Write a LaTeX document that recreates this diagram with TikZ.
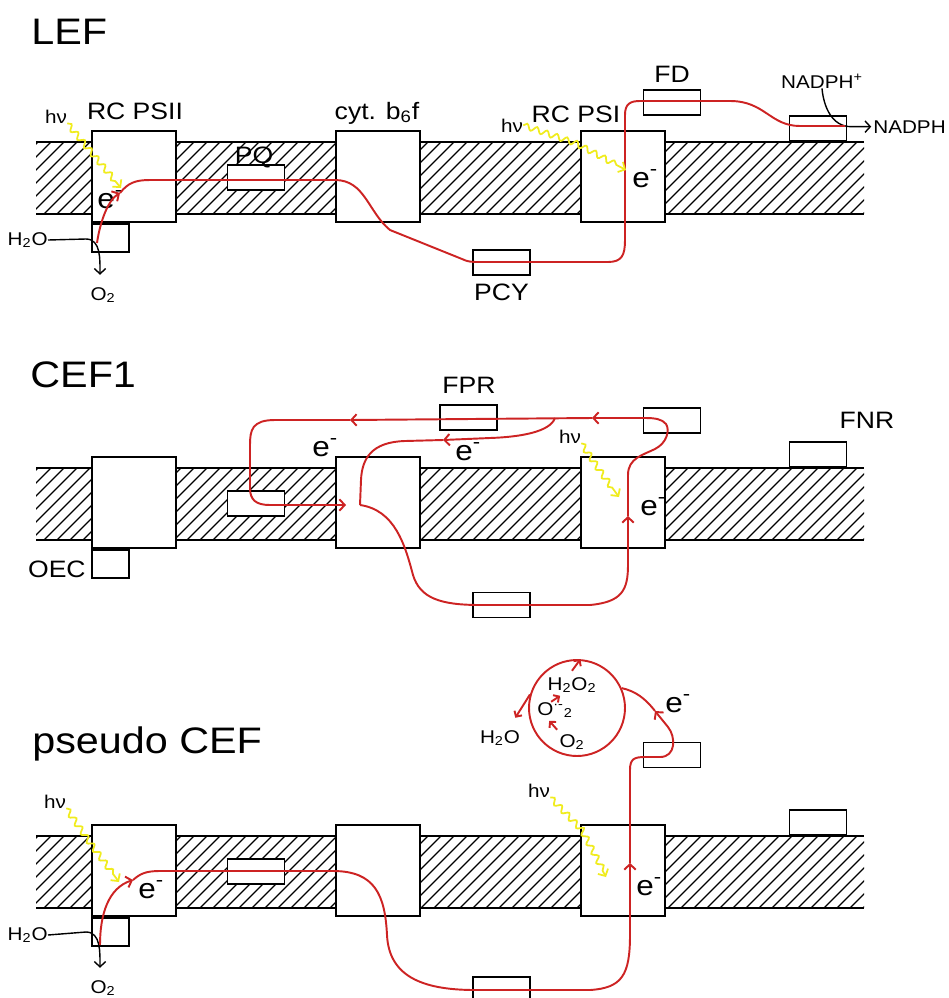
\documentclass[tikz,border=0pt]{standalone}
\usepackage{fontspec}
\setmainfont{Liberation Sans}[FakeStretch=1.12]
\usepackage{tikz}
\usetikzlibrary{arrows.meta,positioning,calc,decorations.pathmorphing}
\definecolor{flowred}{RGB}{205,35,35}
\definecolor{photonyellow}{RGB}{240,236,30}
\newcommand{\fsz}[1]{\fontsize{#1}{#1}\selectfont}

\begin{document}
\begin{tikzpicture}[
    x=0.02cm, y=0.02cm,
    complex/.style={rectangle, draw=black, fill=white, line width=1.1pt, minimum width=1.68cm, minimum height=1.82cm, inner sep=0pt},
    carrier/.style={rectangle, draw=black, fill=white, line width=1.1pt, minimum width=1.14cm, minimum height=0.5cm, inner sep=0pt},
    oec/.style={rectangle, draw=black, fill=white, line width=1.1pt, minimum width=0.74cm, minimum height=0.56cm, inner sep=0pt},
    paneltitle/.style={font=\fsz{21}, anchor=base west, inner sep=0pt},
    tag/.style={font=\fsz{13.5}, anchor=base, inner sep=0pt},
    chem/.style={font=\fsz{10.5}, anchor=base, inner sep=0pt},
    elec/.style={font=\fsz{16}, anchor=base west, inner sep=0pt},
    eflow/.style={draw=flowred, line width=1.1pt},
    etip/.style={-{Straight Barb[length=3pt,width=6.5pt]}},
    stip/.style={-{Straight Barb[length=2.4pt,width=5pt]}},
    photon/.style={draw=photonyellow, line width=1pt, -{Straight Barb[length=3pt,width=6.5pt]}, decorate, decoration={snake, amplitude=1.6pt, segment length=6pt, post length=4pt}},
    arrow/.style={line width=0.8pt, -{Straight Barb[length=3pt,width=6.5pt]}}
]
    \useasboundingbox (0,0) rectangle (949,-998);

    % Membrane and complexes, same in every panel
    \foreach \p/\dy in {lef/0, cef/-326, pcef/-694} {
        \begin{scope}[shift={(0,\dy)}]
            \begin{scope}
                \clip (36,-142) rectangle (864,-214);
                \foreach \h in {-60,-47,...,870} {
                    \draw[line width=0.7pt] (\h,-214) -- ++(72,72);
                }
            \end{scope}
            \draw[line width=1.1pt] (36,-142) -- (864,-142);
            \draw[line width=1.1pt] (36,-214) -- (864,-214);
            \node[complex] (\p-psii) at (134,-176.5) {};
            \node[oec, anchor=north west] (\p-oec) at (\p-psii.south west) {};
            \node[carrier] (\p-pq) at (256,-177.5) {};
            \node[complex] (\p-cyt) at (378,-176.5) {};
            \node[complex] (\p-psi) at (623,-176.5) {};
            \node[carrier, anchor=south] (\p-fnr) at (818,-142) {};
        \end{scope}
    }

    % LEF
    \node[paneltitle] (lef-title) at (31,-44) {LEF};
    \node[tag] (lef-psii-lbl) at (135,-119) {RC PSII};
    \node[tag] (lef-cyt-lbl) at (377,-119) {cyt. b\textsubscript{6}f};
    \node[tag] (lef-pq-lbl) at (254,-163) {PQ};
    \node[tag] (lef-psi-lbl) at (576,-122) {RC PSI};
    \node[carrier] (lef-fd) at (672,-102.5) {};
    \node[tag] (lef-fd-lbl) at (672,-82) {FD};
    \node[carrier] (lef-pcy) at (501.5,-262.5) {};
    \node[tag] (lef-pcy-lbl) at (501.5,-300) {PCY};
    \node[chem] (lef-nadp) at (822,-88) {NADPH\textsuperscript{+}};
    \node[chem, anchor=base west] (lef-nadph) at (873,-133) {NADPH};
    \node[chem] (lef-hv1) at (56,-123) {hν};
    \node[chem] (lef-hv2) at (512,-132) {hν};
    \node[chem, anchor=base east] (lef-h2o) at (48,-245) {H\textsubscript{2}O};
    \node[chem] (lef-o2) at (103,-300) {O\textsubscript{2}};
    \node[elec] (lef-e1) at (97,-208) {e\textsuperscript{-}};
    \node[elec] (lef-e2) at (632,-187) {e\textsuperscript{-}};

    \draw[arrow] (lef-h2o.east) -- (86,-239) to[out=0,in=90] ($(lef-o2.north)+(-3,12)$);
    \draw[arrow, shorten >=1pt] (lef-nadp.south) to[out=-85,in=180] ($(lef-nadph.west)+(-22,0)$) -- (lef-nadph.west);

    \coordinate (lef-s0) at (97,-243);
    \coordinate (lef-s1) at (120,-193);
    \draw[eflow, etip] (lef-s0) .. controls (100,-222) and (108,-200) .. (lef-s1);
    \draw[eflow] (lef-s1) .. controls (128,-183) and (135,-180) .. (150,-180) -- (335,-180)
        .. controls (365,-180) and (368,-212) .. (390,-230) -- (462,-259)
        .. controls (468,-262) and (472,-262) .. (480,-262) -- (608,-262)
        .. controls (622,-262) and (625,-255) .. (625,-240) -- (625,-115)
        .. controls (625,-104) and (630,-101) .. (640,-101) -- (730,-101)
        .. controls (765,-101) and (770,-126) .. (800,-126) -- (845,-126);

    \draw[photon] (lef-hv1.south east) -- (121,-188);
    \draw[photon] (lef-hv2.east) -- (575,-143) -- (626,-170);

    % CEF1
    \node[paneltitle] (cef-title) at (30,-387) {CEF1};
    \node[carrier] (cef-fpr) at (468.5,-417.5) {};
    \node[tag] (cef-fpr-lbl) at (469,-393) {FPR};
    \node[carrier] (cef-fd) at (672,-420.5) {};
    \node[carrier] (cef-pcy) at (501.5,-605) {};
    \node[tag] (cef-fnr-lbl) at (867,-428) {FNR};
    \node[tag, anchor=base east] (cef-oec-lbl) at (86,-577) {OEC};
    \node[chem] (cef-hv) at (570,-443) {hν};
    \node[elec] (cef-e1) at (312,-456) {e\textsuperscript{-}};
    \node[elec] (cef-e2) at (455,-460) {e\textsuperscript{-}};
    \node[elec] (cef-e3) at (640,-515) {e\textsuperscript{-}};

    \coordinate (cef-j) at (360,-505);
    \coordinate (cef-up) at (628,-516);
    \coordinate (cef-top) at (592,-418);
    \coordinate (cef-split) at (555,-418);
    \coordinate (cef-left) at (350,-420);
    \coordinate (cef-mid) at (443,-440);
    \draw[eflow, etip] (cef-j) .. controls (395,-510) and (405,-545) .. (413,-575)
        .. controls (420,-598) and (440,-605) .. (480,-605) -- (590,-605)
        .. controls (622,-602) and (628,-590) .. (628,-565) -- (cef-up);
    \draw[eflow, etip] (cef-up) -- (628,-475) .. controls (628,-458) and (643,-455) .. (655,-449)
        .. controls (667,-443) and (670,-430) .. (666,-424)
        .. controls (662,-419) and (655,-418) .. (645,-418) -- (cef-top);
    \draw[eflow, etip] (cef-top) -- (cef-left);
    \draw[eflow, etip] (cef-left) -- (275,-420) .. controls (252,-420) and (250,-430) .. (250,-445)
        -- (250,-488) .. controls (250,-500) and (256,-505) .. (270,-505) -- (346,-505);
    \draw[eflow, etip] (cef-split) .. controls (550,-432) and (520,-437) .. (490,-438) -- (cef-mid);
    \draw[eflow] (cef-mid) -- (405,-441) .. controls (372,-442) and (362,-458) .. (361,-480) -- (cef-j);

    \draw[photon] (cef-hv.south east) -- (598,-468) -- (619,-497);

    % pseudo CEF
    \node[paneltitle] (pcef-title) at (32,-753) {pseudo CEF};
    \node[carrier] (pcef-fd) at (672,-755) {};
    \node[carrier] (pcef-pcy) at (501.5,-989.5) {};
    \node[chem] (pcef-hv1) at (55,-808) {hν};
    \node[chem] (pcef-hv2) at (539,-797) {hν};
    \node[chem, anchor=base east] (pcef-h2o) at (48,-940) {H\textsubscript{2}O};
    \node[chem] (pcef-o2) at (103,-993) {O\textsubscript{2}};
    \node[elec] (pcef-e1) at (138,-898) {e\textsuperscript{-}};
    \node[elec] (pcef-e2) at (636,-895) {e\textsuperscript{-}};
    \node[elec] (pcef-e3) at (665,-712) {e\textsuperscript{-}};

    % ROS cycle
    \node[circle, draw=flowred, line width=1.1pt, minimum size=1.92cm, inner sep=0pt] (pcef-ros) at (577,-708) {};
    \node[chem] (pcef-h2o2) at (572,-690) {H\textsubscript{2}O\textsubscript{2}};
    \node[chem, anchor=base west] (pcef-sox) at (537,-715) {O\textsuperscript{·-}\textsubscript{2}};
    \node[chem] (pcef-o2in) at (572,-747) {O\textsubscript{2}};
    \node[chem] (pcef-h2oout) at (500,-743) {H\textsubscript{2}O};
    \draw[eflow, stip] ($(pcef-o2in.north west)+(-2,4)$) -- ++(-8,9);
    \draw[eflow, stip] ($(pcef-sox.north)+(-4,0)$) -- ++(9,6);
    \draw[eflow, stip] ($(pcef-h2o2.north)+(0,6)$) -- (pcef-ros.86);
    \draw[eflow, stip] (pcef-ros.164) -- ($(pcef-h2oout.north east)+(-5,12)$);

    \draw[arrow] (pcef-h2o.east) -- (86,-932) to[out=0,in=90] ($(pcef-o2.north)+(-3,12)$);

    \coordinate (pcef-s0) at (100,-945);
    \coordinate (pcef-s1) at (133,-880);
    \coordinate (pcef-up) at (630,-863);
    \coordinate (pcef-back) at (655,-711);
    \draw[eflow, etip] (pcef-s0) .. controls (100,-915) and (108,-888) .. (pcef-s1);
    \draw[eflow, etip] (pcef-s1) .. controls (140,-874) and (145,-871) .. (160,-871) -- (333,-871)
        .. controls (375,-871) and (385,-895) .. (387,-935)
        .. controls (389,-975) and (420,-990) .. (475,-990) -- (590,-990)
        .. controls (622,-988) and (630,-975) .. (630,-935) -- (pcef-up);
    \draw[eflow, etip] (pcef-up) -- (630,-770) .. controls (630,-759) and (634,-757) .. (645,-757)
        -- (660,-757) .. controls (676,-757) and (676,-737) .. (668,-727) -- (pcef-back);
    \draw[eflow] (pcef-back) .. controls (645,-698) and (635,-691) .. (pcef-ros.24);

    \draw[photon] (pcef-hv1.south east) -- (88,-840) -- (119,-882);
    \draw[photon] (pcef-hv2.south east) -- (580,-828) -- (606,-877);
\end{tikzpicture}
\end{document}
